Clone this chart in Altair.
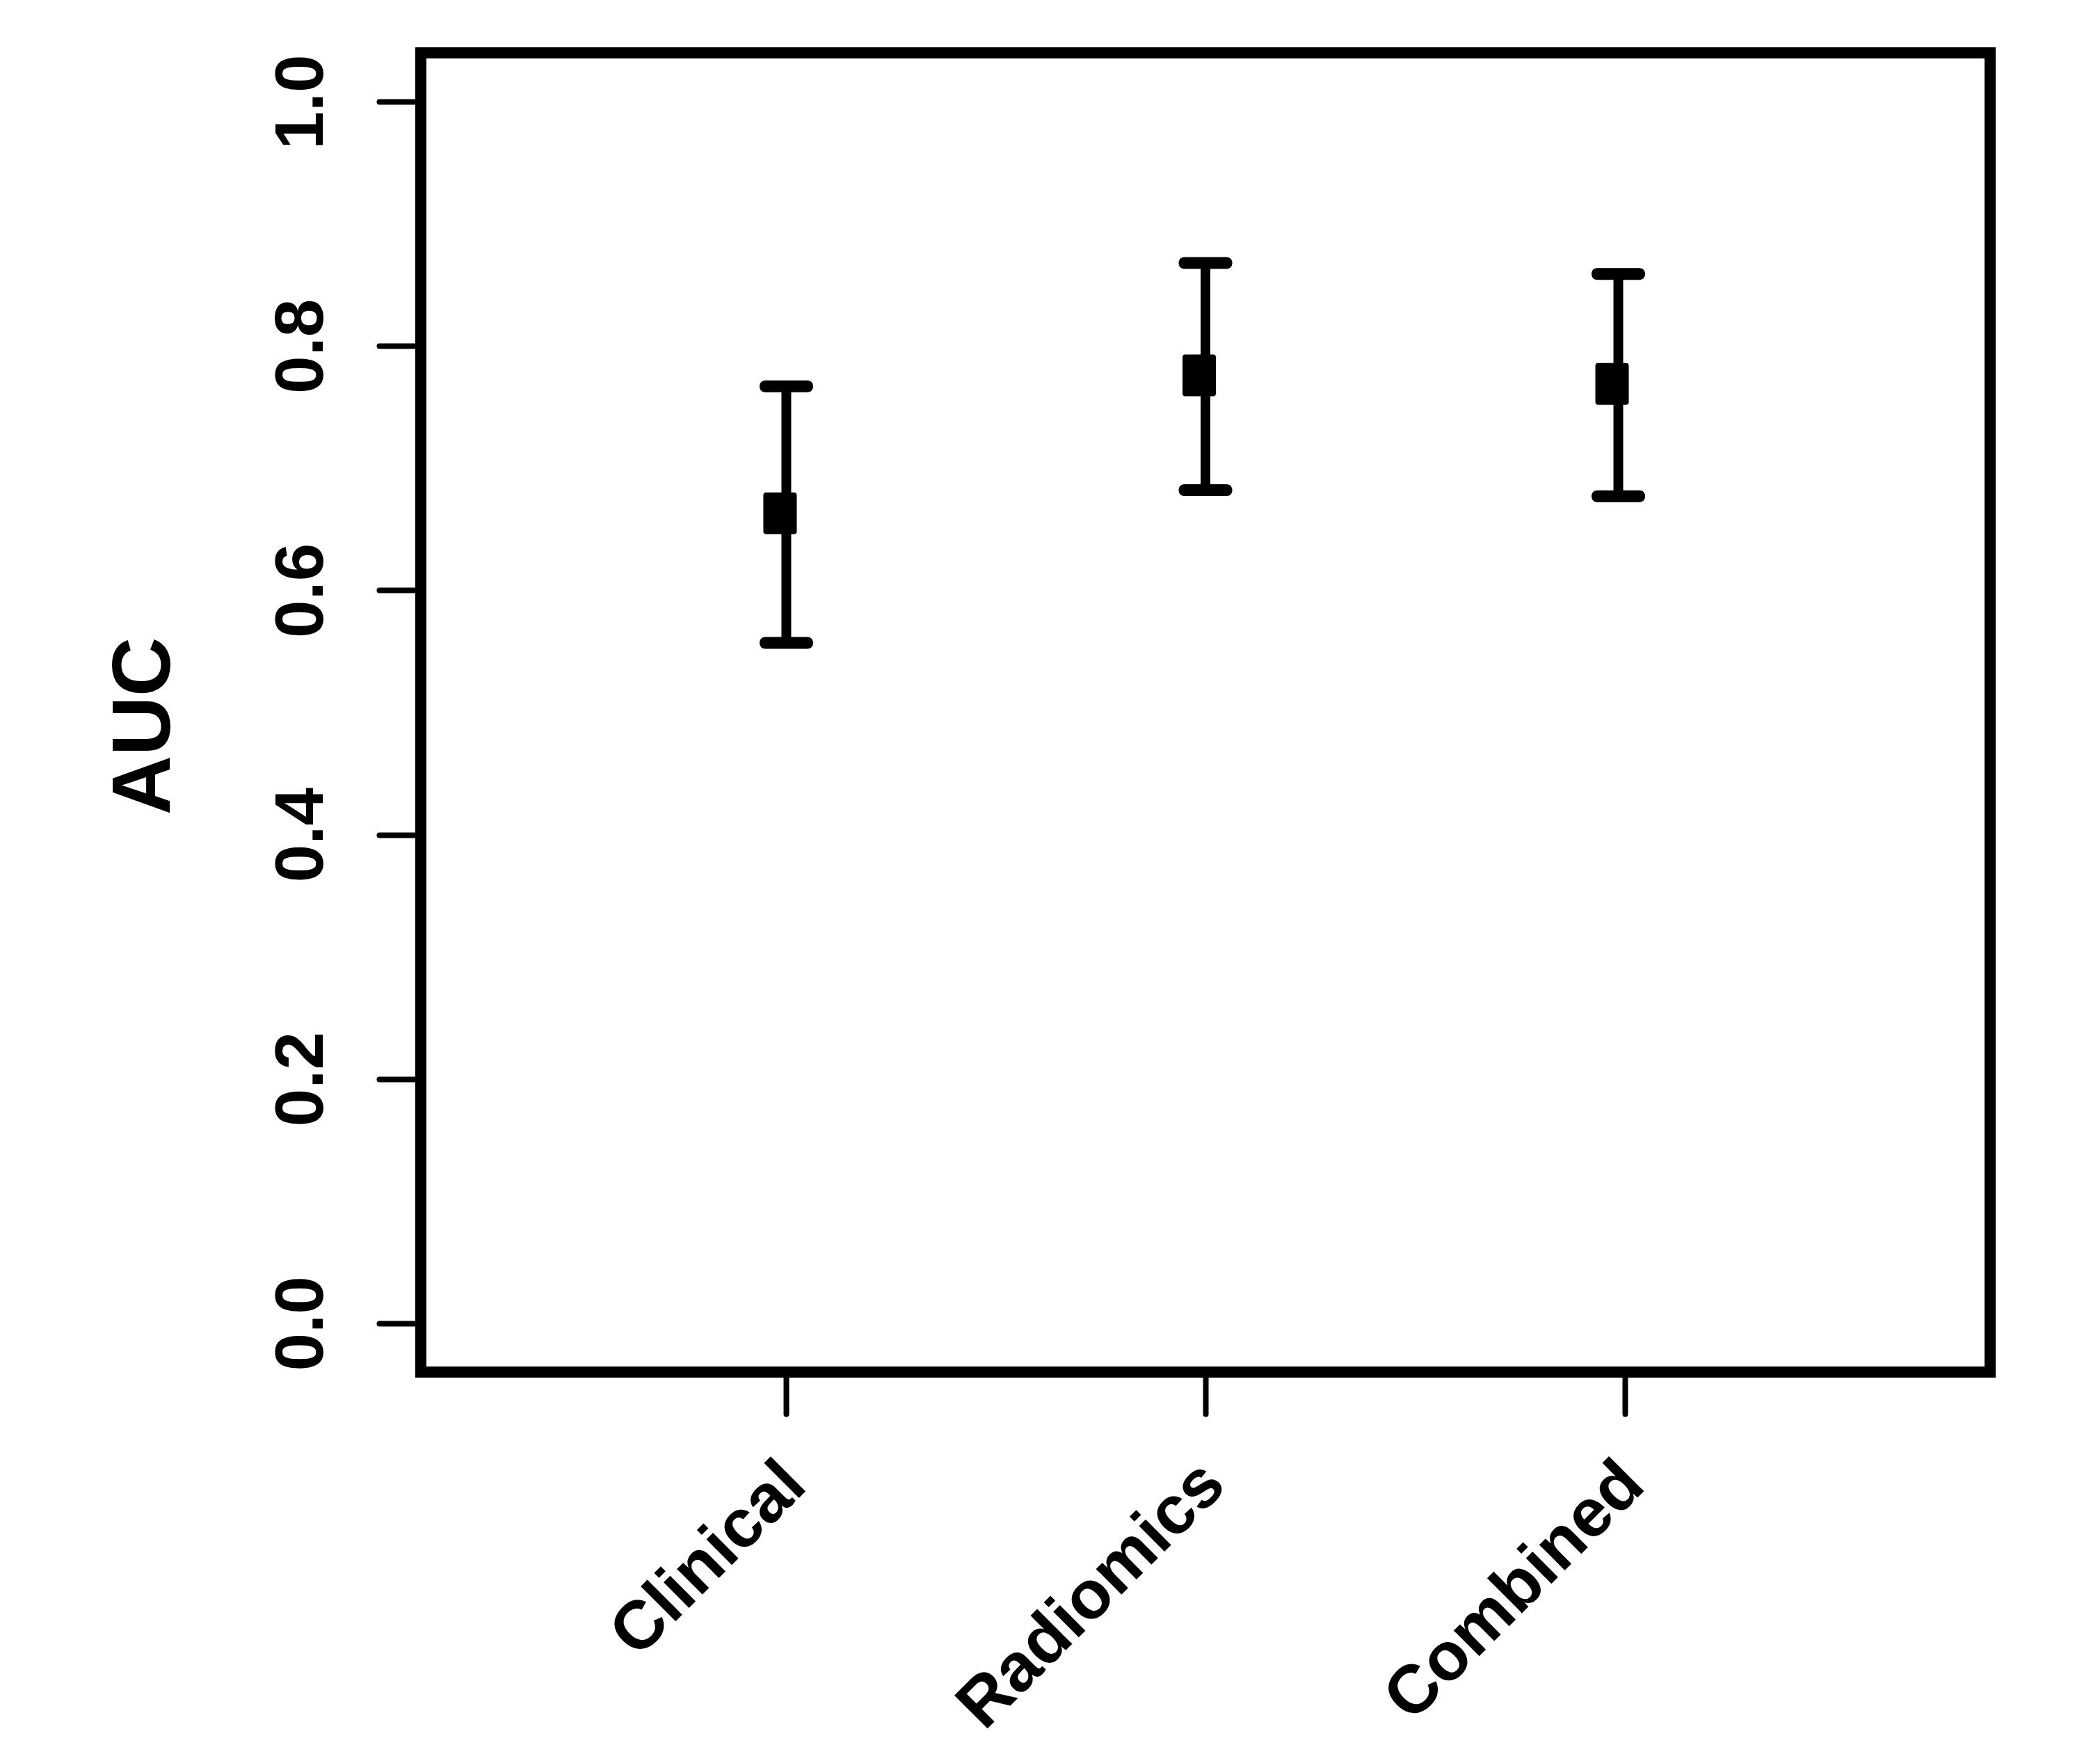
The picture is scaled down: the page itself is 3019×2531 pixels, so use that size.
import json
import altair as alt
import pandas as pd

# ---- data ----
categories = ["Clinical", "Radiomics", "Combined"]
tick_pos = [1, 2, 3]
bar_pos = [1.0, 2.0, 2.985]
auc = [0.663, 0.776, 0.769]
ci_low = [0.557, 0.682, 0.677]
ci_high = [0.767, 0.868, 0.859]
y_ticks = [0.0, 0.2, 0.4, 0.6, 0.8, 1.0]

df = pd.DataFrame({
    "cat": categories,
    "pos": bar_pos,
    "auc": auc,
    "low": ci_low,
    "high": ci_high,
})

FONT = "Liberation Sans"

label_expr = json.dumps(categories) + "[round(datum.value) - 1]"

x_axis = alt.Axis(
    values=tick_pos,
    labelExpr=label_expr,
    title=None,
    domain=False,
    grid=False,
    ticks=True,
    tickSize=60,
    tickWidth=8,
    tickCap="round",
    tickColor="black",
    labelFont=FONT,
    labelFontWeight="bold",
    labelFontSize=98,
    labelColor="black",
    labelAngle=315,
    labelAlign="right",
    labelBaseline="alphabetic",
    labelPadding=106,
    labelOffset=32,
    labelFlush=False,
    labelOverlap=False,
    labelBound=False,
    labelLimit=0,
)

y_axis = alt.Axis(
    values=y_ticks,
    format=".1f",
    title="AUC",
    domain=False,
    grid=False,
    ticks=True,
    tickSize=60,
    tickWidth=8,
    tickCap="round",
    tickColor="black",
    labelFont=FONT,
    labelFontWeight="bold",
    labelFontSize=98,
    labelColor="black",
    labelAngle=270,
    labelAlign="center",
    labelBaseline="alphabetic",
    labelPadding=82,
    labelFlush=False,
    labelOverlap=False,
    labelLimit=0,
    titleFont=FONT,
    titleFontWeight="bold",
    titleFontSize=118,
    titleColor="black",
    titleAngle=270,
    titleAlign="center",
    titleBaseline="alphabetic",
    titleX=-362,
    titleY=967,
    titleLimit=0,
)

x_scale = alt.Scale(domain=[0.128, 3.872], nice=False, zero=False)
y_scale = alt.Scale(domain=[-0.04, 1.04], nice=False, zero=False)

X = alt.X("pos:Q", scale=x_scale, axis=x_axis)

base = alt.Chart(df)

whisker = base.mark_rule(color="black", strokeWidth=14, strokeCap="butt").encode(
    x=X,
    y=alt.Y("low:Q", scale=y_scale, axis=y_axis),
    y2="high:Q",
)

cap_hi = base.mark_tick(
    orient="horizontal", color="black", size=77, thickness=17,
    cornerRadius=8, opacity=1,
).encode(
    x=X,
    y=alt.Y("high:Q", scale=y_scale, axis=y_axis),
)

cap_lo = base.mark_tick(
    orient="horizontal", color="black", size=77, thickness=17,
    cornerRadius=8, opacity=1,
).encode(
    x=X,
    y=alt.Y("low:Q", scale=y_scale, axis=y_axis),
)

point = base.mark_point(
    shape="M-0.77,-1L0.77,-1L0.77,1L-0.77,1Z",
    size=2704,
    filled=True,
    fill="black",
    stroke="black",
    strokeWidth=8,
    strokeJoin="round",
    opacity=1,
    xOffset=-9,
).encode(
    x=X,
    y=alt.Y("auc:Q", scale=y_scale, axis=y_axis),
)

chart = alt.layer(whisker, cap_hi, cap_lo, point).properties(
    width=2256,
    height=1896,
    autosize=alt.AutoSizeParams(type="none"),
    padding={"left": 597, "top": 68, "right": 150, "bottom": 545},
    background="white",
).configure_view(
    stroke="black",
    strokeWidth=16,
    fill="white",
)

chart.save("out.html", embed_options={"renderer": "svg", "actions": False})
